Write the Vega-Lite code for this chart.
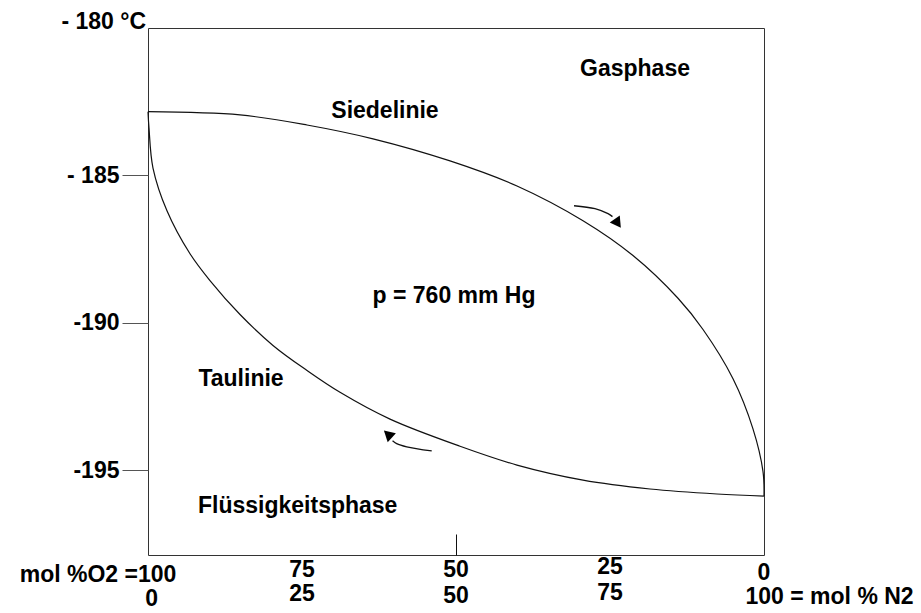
{
  "$schema": "https://vega.github.io/schema/vega-lite/v6.json",
  "autosize": {"type": "none"},
  "width": 616,
  "height": 527,
  "padding": {"left": 148, "top": 28, "right": 157, "bottom": 58},
  "background": "white",
  "config": {
    "view": {"stroke": "#333", "strokeWidth": 1},
    "font": "Liberation Sans",
    "axis": {"grid": false}
  },
  "datasets": {
    "curves": [
      {"curve": "Siedelinie", "i": 0, "x": 0, "y": -182.84},
      {"curve": "Siedelinie", "i": 1, "x": 14.94, "y": -182.95},
      {"curve": "Siedelinie", "i": 2, "x": 25.81, "y": -183.29},
      {"curve": "Siedelinie", "i": 3, "x": 36.53, "y": -183.76},
      {"curve": "Siedelinie", "i": 4, "x": 49.03, "y": -184.51},
      {"curve": "Siedelinie", "i": 5, "x": 59.9, "y": -185.36},
      {"curve": "Siedelinie", "i": 6, "x": 70.62, "y": -186.54},
      {"curve": "Siedelinie", "i": 7, "x": 78.73, "y": -187.72},
      {"curve": "Siedelinie", "i": 8, "x": 86.04, "y": -189.17},
      {"curve": "Siedelinie", "i": 9, "x": 90.1, "y": -190.23},
      {"curve": "Siedelinie", "i": 10, "x": 94.97, "y": -191.9},
      {"curve": "Siedelinie", "i": 11, "x": 98.21, "y": -193.6},
      {"curve": "Siedelinie", "i": 12, "x": 99.84, "y": -195.05},
      {"curve": "Siedelinie", "i": 13, "x": 100, "y": -195.88},
      {"curve": "Taulinie", "i": 0, "x": 0, "y": -182.84},
      {"curve": "Taulinie", "i": 1, "x": 0.16, "y": -183.39},
      {"curve": "Taulinie", "i": 2, "x": 0.81, "y": -184.75},
      {"curve": "Taulinie", "i": 3, "x": 3.08, "y": -186.2},
      {"curve": "Taulinie", "i": 4, "x": 6.82, "y": -187.66},
      {"curve": "Taulinie", "i": 5, "x": 10.06, "y": -188.57},
      {"curve": "Taulinie", "i": 6, "x": 14.94, "y": -189.72},
      {"curve": "Taulinie", "i": 7, "x": 20.29, "y": -190.77},
      {"curve": "Taulinie", "i": 8, "x": 25.81, "y": -191.62},
      {"curve": "Taulinie", "i": 9, "x": 31.17, "y": -192.36},
      {"curve": "Taulinie", "i": 10, "x": 39.29, "y": -193.27},
      {"curve": "Taulinie", "i": 11, "x": 50.65, "y": -194.19},
      {"curve": "Taulinie", "i": 12, "x": 59.9, "y": -194.83},
      {"curve": "Taulinie", "i": 13, "x": 70.62, "y": -195.34},
      {"curve": "Taulinie", "i": 14, "x": 81.49, "y": -195.64},
      {"curve": "Taulinie", "i": 15, "x": 92.37, "y": -195.81},
      {"curve": "Taulinie", "i": 16, "x": 100, "y": -195.88}
    ],
    "arrows": [
      {"arrow": "down", "i": 0, "x": 69.16, "y": -186.03},
      {"arrow": "down", "i": 1, "x": 72.56, "y": -186.13},
      {"arrow": "down", "i": 2, "x": 74.68, "y": -186.3},
      {"arrow": "down", "i": 3, "x": 75.4, "y": -186.4},
      {"arrow": "up", "i": 0, "x": 46.06, "y": -194.35},
      {"arrow": "up", "i": 1, "x": 42.0, "y": -194.21},
      {"arrow": "up", "i": 2, "x": 40.37, "y": -194.1},
      {"arrow": "up", "i": 3, "x": 39.7, "y": -194.0}
    ],
    "heads": [
      {"arrow": "down", "x": 76.1, "y": -186.58},
      {"arrow": "up", "x": 39.15, "y": -193.82}
    ],
    "notes": [
      {"label": "Gasphase", "x": 79.06, "y": -181.4},
      {"label": "Siedelinie", "x": 38.47, "y": -182.8},
      {"label": "p = 760 mm Hg", "x": 49.68, "y": -189.1},
      {"label": "Taulinie", "x": 15.1, "y": -191.92},
      {"label": "Flüssigkeitsphase", "x": 24.3, "y": -196.22}
    ],
    "xlabels": [
      {"x": 25, "y": -198.38, "label": "75"},
      {"x": 50, "y": -198.4, "label": "50"},
      {"x": 75, "y": -198.3, "label": "25"},
      {"x": 100, "y": -198.48, "label": "0"},
      {"x": 0.6, "y": -199.38, "label": "0"},
      {"x": 25, "y": -199.22, "label": "25"},
      {"x": 50, "y": -199.26, "label": "50"},
      {"x": 75, "y": -199.16, "label": "75"}
    ],
    "xleft": [
      {"x": 4.6, "y": -198.55, "label": "mol %O2 =100"}
    ],
    "xright": [
      {"x": 97.0, "y": -199.32, "label": "100 = mol % N2"}
    ],
    "ytitle": [
      {"x": 0, "y": -180, "label": "- 180 °C"}
    ]
  },
  "layer": [
    {
      "data": {"name": "curves"},
      "mark": {"type": "line", "interpolate": "catmull-rom", "color": "#111", "strokeWidth": 1.2},
      "encoding": {
        "x": {
          "field": "x", "type": "quantitative",
          "scale": {"domain": [0, 100], "nice": false, "zero": false},
          "axis": {"values": [50], "labels": false, "domain": false, "tickSize": -21, "tickColor": "#111", "tickWidth": 1, "title": null}
        },
        "y": {
          "field": "y", "type": "quantitative",
          "scale": {"domain": [-197.88, -180], "nice": false, "zero": false},
          "axis": {
            "values": [-185, -190, -195],
            "labelExpr": "datum.value == -185 ? '- 185' : '' + datum.value",
            "domain": false, "tickSize": 26, "tickColor": "#555", "tickWidth": 1,
            "labelFontSize": 23, "labelFontWeight": "bold", "labelColor": "#000",
            "labelPadding": 3, "labelFont": "Liberation Sans", "title": null
          }
        },
        "detail": {"field": "curve"},
        "order": {"field": "i", "type": "quantitative"}
      }
    },
    {
      "data": {"name": "arrows"},
      "mark": {"type": "line", "interpolate": "catmull-rom", "color": "#111", "strokeWidth": 1.3},
      "encoding": {
        "x": {"field": "x", "type": "quantitative"},
        "y": {"field": "y", "type": "quantitative"},
        "detail": {"field": "arrow"},
        "order": {"field": "i", "type": "quantitative"}
      }
    },
    {
      "data": {"name": "heads"},
      "transform": [{"filter": "datum.arrow == 'down'"}],
      "mark": {"type": "point", "shape": "triangle", "filled": true, "color": "#000", "size": 150, "angle": 145, "opacity": 1},
      "encoding": {
        "x": {"field": "x", "type": "quantitative"},
        "y": {"field": "y", "type": "quantitative"}
      }
    },
    {
      "data": {"name": "heads"},
      "transform": [{"filter": "datum.arrow == 'up'"}],
      "mark": {"type": "point", "shape": "triangle", "filled": true, "color": "#000", "size": 150, "angle": 312, "opacity": 1},
      "encoding": {
        "x": {"field": "x", "type": "quantitative"},
        "y": {"field": "y", "type": "quantitative"}
      }
    },
    {
      "data": {"name": "notes"},
      "mark": {"type": "text", "fontSize": 23, "fontWeight": "bold", "font": "Liberation Sans", "color": "#000", "align": "center", "baseline": "middle"},
      "encoding": {
        "x": {"field": "x", "type": "quantitative"},
        "y": {"field": "y", "type": "quantitative"},
        "text": {"field": "label"}
      }
    },
    {
      "data": {"name": "xlabels"},
      "mark": {"type": "text", "fontSize": 23, "fontWeight": "bold", "font": "Liberation Sans", "color": "#000", "align": "center", "baseline": "middle"},
      "encoding": {
        "x": {"field": "x", "type": "quantitative"},
        "y": {"field": "y", "type": "quantitative"},
        "text": {"field": "label"}
      }
    },
    {
      "data": {"name": "xleft"},
      "mark": {"type": "text", "fontSize": 23, "fontWeight": "bold", "font": "Liberation Sans", "color": "#000", "align": "right", "baseline": "middle"},
      "encoding": {
        "x": {"field": "x", "type": "quantitative"},
        "y": {"field": "y", "type": "quantitative"},
        "text": {"field": "label"}
      }
    },
    {
      "data": {"name": "xright"},
      "mark": {"type": "text", "fontSize": 23, "fontWeight": "bold", "font": "Liberation Sans", "color": "#000", "align": "left", "baseline": "middle"},
      "encoding": {
        "x": {"field": "x", "type": "quantitative"},
        "y": {"field": "y", "type": "quantitative"},
        "text": {"field": "label"}
      }
    },
    {
      "data": {"name": "ytitle"},
      "mark": {"type": "text", "fontSize": 23, "fontWeight": "bold", "font": "Liberation Sans", "color": "#000", "align": "right", "baseline": "alphabetic", "dx": -2, "dy": 1},
      "encoding": {
        "x": {"field": "x", "type": "quantitative"},
        "y": {"field": "y", "type": "quantitative"},
        "text": {"field": "label"}
      }
    }
  ]
}
